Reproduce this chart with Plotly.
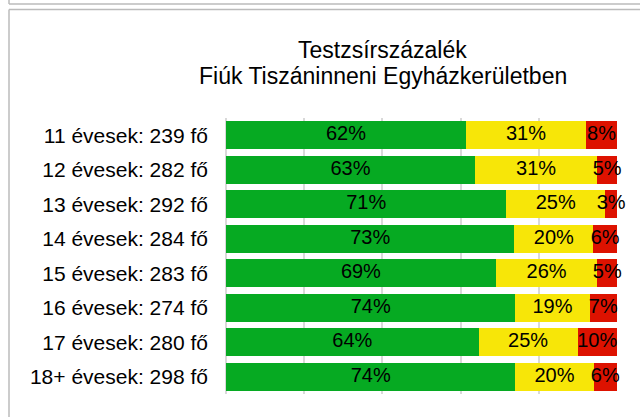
import plotly.graph_objects as go

categories = ["11 évesek: 239 fő", "12 évesek: 282 fő", "13 évesek: 292 fő",
              "14 évesek: 284 fő", "15 évesek: 283 fő", "16 évesek: 274 fő",
              "17 évesek: 280 fő", "18+ évesek: 298 fő"]
green_vals = [62, 63, 71, 73, 69, 74, 64, 74]
yellow_vals = [31, 31, 25, 20, 26, 19, 25, 20]
red_vals = [8, 5, 3, 6, 5, 7, 10, 6]
series_names = ["Normál", "Emelkedett", "Magas"]
colors = ["#06AA22", "#F7E608", "#DD1200"]
title_lines = ["Testzsírszázalék", "Fiúk Tiszáninneni Egyházkerületben"]

W, H = 640, 417
ML, MR, MT, MB = 226, 23, 118, 23
PW, PH = W - ML - MR, H - MT - MB
FONT = "Liberation Sans, Arial, sans-serif"

series = [green_vals, yellow_vals, red_vals]
totals = [sum(t) for t in zip(*series)]

fig = go.Figure()
cum = [0.0] * len(categories)
for name, vals, col in zip(series_names, series, colors):
    fig.add_trace(go.Bar(
        y=categories, x=vals, orientation="h", name=name,
        marker=dict(color=col, line=dict(width=0)),
        hoverinfo="skip",
    ))
    centers = [(c + v / 2) / t * 100 for c, v, t in zip(cum, vals, totals)]
    fig.add_trace(go.Scatter(
        y=categories, x=centers, mode="text", text=[f"{v}%" for v in vals],
        textposition="middle center",
        textfont=dict(family=FONT, size=20, color="#000000"),
        cliponaxis=False, hoverinfo="skip", showlegend=False,
    ))
    cum = [c + v for c, v in zip(cum, vals)]


def px(x):
    return (x - ML) / PW


def py(y):
    return (H - MB - y) / PH


border = dict(color="#BBBBBB", width=1.5)
shapes = [
    dict(type="line", xref="paper", yref="paper", x0=px(9), x1=px(700), y0=py(4), y1=py(4), line=border),
    dict(type="line", xref="paper", yref="paper", x0=px(9), x1=px(9), y0=py(-5), y1=py(4), line=border),
    dict(type="line", xref="paper", yref="paper", x0=px(9), x1=px(700), y0=py(9.5), y1=py(9.5), line=border),
    dict(type="line", xref="paper", yref="paper", x0=px(9), x1=px(9), y0=py(9.5), y1=py(430), line=border),
]

annotations = [
    dict(text=title_lines[0], xref="paper", yref="paper", x=px(382), y=py(50.5),
         xanchor="center", yanchor="middle", showarrow=False,
         font=dict(family=FONT, size=23, color="#000000")),
    dict(text=title_lines[1], xref="paper", yref="paper", x=px(383), y=py(76),
         xanchor="center", yanchor="middle", showarrow=False,
         font=dict(family=FONT, size=23, color="#000000")),
]

fig.update_layout(
    width=W, height=H, barmode="stack", barnorm="percent", bargap=0.19,
    margin=dict(l=ML, r=MR, t=MT, b=MB, autoexpand=False),
    paper_bgcolor="white", plot_bgcolor="white",
    showlegend=False,
    font=dict(family=FONT, color="#000000"),
    xaxis=dict(range=[0, 100], dtick=20, showticklabels=False, showgrid=True,
               gridcolor="#D9D9D9", gridwidth=1.5, zeroline=True, zerolinecolor="#D9D9D9",
               zerolinewidth=1.5, ticks=""),
    yaxis=dict(autorange="reversed", ticks="", showgrid=False, ticklabelstandoff=17,
               tickfont=dict(size=21, color="#000000")),
    shapes=shapes,
    annotations=annotations,
)

fig.write_html("out.html", config={"displayModeBar": False},
               post_script="document.body.style.margin='0';")
